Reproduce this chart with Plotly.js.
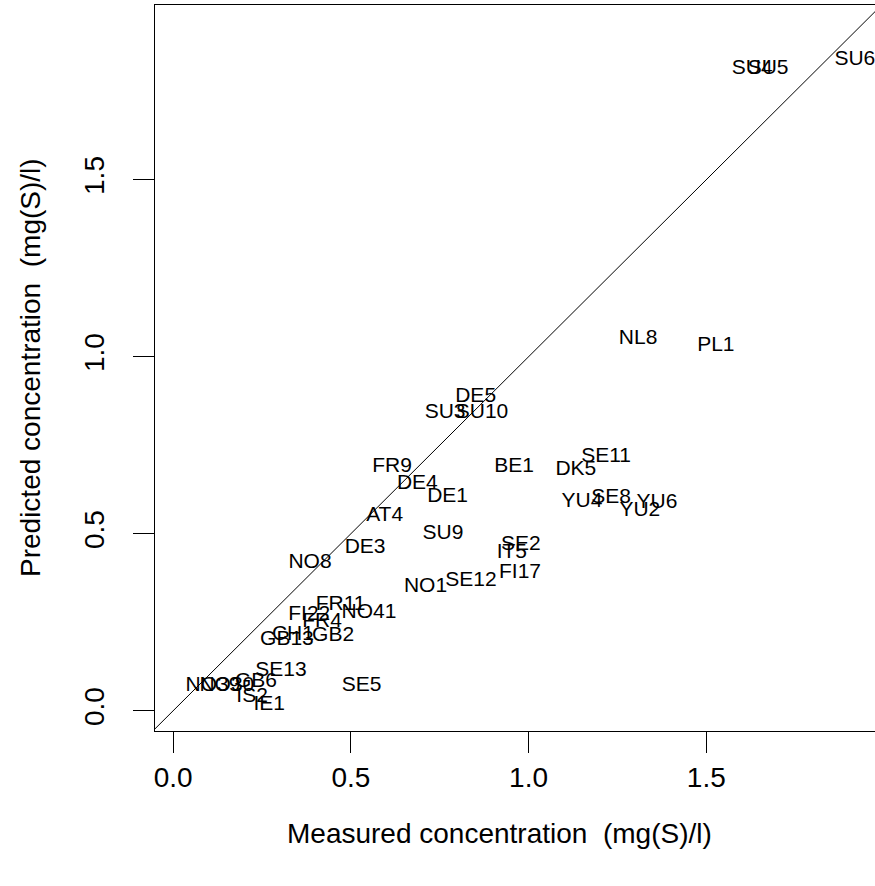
<!DOCTYPE html>
<html>
<head>
<meta charset="utf-8">
<script src="https://cdn.plot.ly/plotly-3.0.1.min.js"></script>
<style>html,body{margin:0;padding:0;background:#fff;}#chart{width:875px;height:886px;}</style>
</head>
<body>
<div id="chart"></div>
<script>
// Station labels, measured (x) and predicted (y) concentrations, mg(S)/l
const stations = ["SU4","SU5","SU6","NL8","PL1","DE5","SU3","SU10","FR9","DE4","DE1","BE1","DK5","SE11","YU4","SE8","YU6","YU2","SE2","IT5","FI17","SE12","NO1","SU9","AT4","DE3","NO8","FR11","NO41","FI22","FR4","GB2","CH1","GB13","SE13","SE5","NO39","NO30","GB6","IS2","IE1"];
const measured = [1.629,1.674,1.918,1.308,1.527,0.851,0.765,0.869,0.616,0.687,0.772,0.959,1.133,1.218,1.150,1.232,1.361,1.313,0.978,0.953,0.976,0.838,0.710,0.759,0.595,0.540,0.385,0.471,0.551,0.383,0.419,0.450,0.337,0.320,0.303,0.530,0.112,0.151,0.233,0.222,0.270];
const predicted = [1.813,1.813,1.838,1.050,1.030,0.886,0.841,0.841,0.688,0.640,0.604,0.688,0.680,0.717,0.590,0.601,0.587,0.564,0.470,0.445,0.389,0.366,0.350,0.499,0.550,0.459,0.417,0.299,0.276,0.270,0.251,0.211,0.214,0.200,0.112,0.070,0.070,0.070,0.081,0.039,0.016];
// identity line y = x
const identityX = [-0.2, 2.2];
const identityY = [-0.2, 2.2];
const tickVals = [0, 0.5, 1, 1.5];
const tickText = ["0.0", "0.5", "1.0", "1.5"];

const FONT = "Liberation Sans, Arial, Helvetica, sans-serif";

const traces = [
  {x: identityX, y: identityY, mode: "lines", type: "scatter",
   line: {color: "#000", width: 1}, hoverinfo: "skip", showlegend: false},
  {x: measured, y: predicted, text: stations, mode: "text", type: "scatter",
   textposition: "middle center", textfont: {family: FONT, size: 21, color: "#000"},
   cliponaxis: false, showlegend: false}
];

const axisCommon = {
  showgrid: false, zeroline: false, showline: true, linecolor: "#000", linewidth: 1,
  ticks: "outside", ticklen: 21, tickwidth: 1, tickcolor: "#000",
  tickvals: tickVals, ticktext: tickText,
  tickfont: {family: FONT, size: 28, color: "#000"}
};

const layout = {
  width: 875, height: 886,
  margin: {l: 155, r: 0, t: 5, b: 155},
  paper_bgcolor: "#fff", plot_bgcolor: "#fff",
  showlegend: false,
  xaxis: Object.assign({}, axisCommon, {range: [-0.0512, 1.9747], mirror: true}),
  yaxis: Object.assign({}, axisCommon, {range: [-0.0573, 1.9935], tickangle: -90, ticklabelstandoff: 18}),
  annotations: [
    {text: "Measured concentration  (mg(S)/l)", xref: "paper", yref: "paper",
     x: 0.479, y: -0.1405, xanchor: "center", yanchor: "middle", showarrow: false,
     font: {family: FONT, size: 28, color: "#000"}},
    {text: "Predicted concentration  (mg(S)/l)", xref: "paper", yref: "paper",
     x: -0.1736, y: 0.5, xanchor: "center", yanchor: "middle", showarrow: false,
     textangle: -90, font: {family: FONT, size: 28, color: "#000"}}
  ]
};

Plotly.newPlot("chart", traces, layout, {displayModeBar: false, staticPlot: true});
</script>
</body>
</html>
